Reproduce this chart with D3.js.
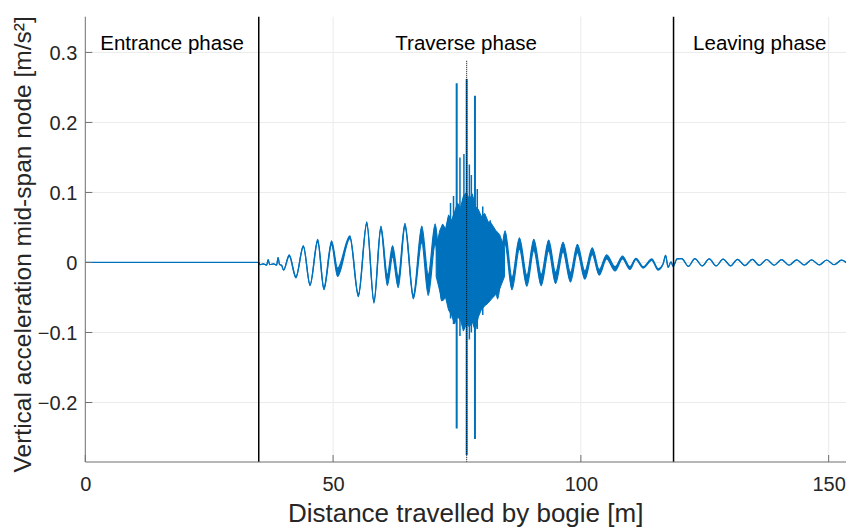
<!DOCTYPE html>
<html>
<head>
<meta charset="utf-8">
<script src="https://cdn.jsdelivr.net/npm/d3@7"></script>
<style>
  html, body { margin: 0; padding: 0; background: #fff; }
  svg { display: block; font-family: "Liberation Sans", Arial, sans-serif; }
</style>
</head>
<body>
<svg id="chart" width="846" height="531"></svg>
<script>
// Phase boundaries along the bridge [m]
const entranceEnd = 35.0;
const leavingStart = 118.7;
const midSpanPass = 76.96;
const midSpanMarkerTop = 0.288;

const phaseLabels = ["Entrance phase", "Traverse phase", "Leaving phase"];
const xTicks = [0, 50, 100, 150];
const yTicks = [-0.2, -0.1, 0, 0.1, 0.2, 0.3];
const xDomain = [0, 153.5];
const yDomain = [-0.285, 0.351];

// Bridge at rest before the bogie arrives
const restX = [0, 35.0];
const restY = [0, 0];

// Turning points of the response while the bogie is on / off the bridge
const waveX = [35.0, 35.3, 35.9, 36.6, 36.9, 37.2, 38.0, 38.6, 38.9, 39.2, 39.6, 40.0,
  41.15, 42.5, 44.0, 45.35, 46.9, 48.15, 49.7, 50.9, 53.4, 55.1, 56.8, 58.25, 59.65,
  60.95, 62.0, 63.15, 64.5, 66.2, 67.9, 69.2, 70.6, 71.9, 73.3, 74.7, 76.1, 77.5,
  78.8, 80.3, 81.7, 83.2, 84.7, 86.1, 87.6, 89.1, 90.5, 92.0, 93.5, 94.9, 96.4, 97.9,
  99.3, 100.8, 102.3, 103.7, 105.2, 106.9, 108.4, 109.9, 111.1, 112.6, 114.3, 115.6,
  116.6, 117.1, 117.6, 118.2, 118.6, 119.4,
  120.35, 121.7, 123.0, 124.5, 125.9, 127.3, 128.7, 130.2, 131.6, 133.1, 134.6, 136.0,
  137.5, 139.0, 140.5, 142.0, 143.55, 145.05, 146.55, 148.1, 149.6, 151.1, 152.6, 154.0];
const waveY = [0, -0.003, -0.002, -0.004, 0.004, -0.003, -0.002, -0.004, 0.007, -0.003, -0.004, -0.011,
  0.010, -0.021, 0.023, -0.032, 0.031, -0.037, 0.028, -0.014, 0.036, -0.047, 0.056, -0.056, 0.049,
  -0.025, 0.016, -0.028, 0.053, -0.049, 0.040, -0.032, 0.040, -0.040, 0.045, -0.045, 0.050, -0.050,
  0.050, -0.045, 0.045, -0.040, 0.035, -0.030, 0.027, -0.026, 0.025, -0.025, 0.024, -0.022, 0.022, -0.021,
  0.020, -0.018, 0.016, -0.014, 0.008, -0.009, 0.007, -0.008, 0.005, -0.007, 0.004, -0.010,
  -0.002, 0.010, -0.007, 0.001, -0.006, 0.005,
  0.0055, -0.0055, 0.0055, -0.005, 0.005, -0.005, 0.0048, -0.0048, 0.0045, -0.0045, 0.0045, -0.0042,
  0.0042, -0.004, 0.004, -0.004, 0.0038, -0.0036, 0.0036, -0.0035, 0.0035, -0.0033, 0.0033, -0.003];
// Half-width of the fast vibration riding on the slow wave
const waveSpread = [0, 0, 0, 0, 0, 0, 0, 0, 0, 0, 0, 0,
  0.001, 0.001, 0.001, 0.001, 0.002, 0.002, 0.003, 0.006, 0.002, 0.002, 0.002, 0.002, 0.003,
  0.008, 0.008, 0.008, 0.003, 0.003, 0.012, 0.015, 0.015, 0.015, 0.02, 0.02, 0.02, 0.02,
  0.02, 0.018, 0.015, 0.012, 0.010, 0.009, 0.008, 0.008, 0.008, 0.008, 0.008, 0.008, 0.007, 0.007,
  0.006, 0.006, 0.005, 0.004, 0.003, 0.003, 0.002, 0.002, 0.001, 0.001, 0.001, 0.001,
  0, 0, 0, 0, 0, 0,
  0, 0, 0, 0, 0, 0, 0, 0, 0, 0, 0, 0,
  0, 0, 0, 0, 0, 0, 0, 0, 0, 0, 0, 0];

// Dense burst around the mid-span passage: upper and lower envelope
const burstX  = [70.8, 71.5, 72.1, 72.7, 73.3, 73.9, 74.5, 75.1, 75.7, 76.3, 76.9, 77.5, 78.1, 78.7, 79.3, 79.9, 80.6, 81.3, 82.0, 82.8, 83.6, 84.6];
const burstHi = [0.020, 0.045, 0.055, 0.048, 0.068, 0.060, 0.072, 0.085, 0.078, 0.095, 0.100, 0.090, 0.098, 0.080, 0.076, 0.066, 0.070, 0.058, 0.055, 0.046, 0.040, 0.020];
const burstLo = [-0.020, -0.040, -0.055, -0.050, -0.068, -0.075, -0.088, -0.078, -0.082, -0.098, -0.088, -0.092, -0.085, -0.098, -0.078, -0.068, -0.062, -0.058, -0.052, -0.046, -0.038, -0.020];

// Impact peaks inside the burst
const peakX  = [74.94, 76.96, 78.63, 75.6, 76.4, 77.5, 77.9, 79.1, 73.7, 74.3, 80.2];
const peakHi = [0.256, 0.262, 0.238, 0.150, 0.155, 0.140, 0.125, 0.105, 0.085, 0.095, 0.080];
const peakLo = [-0.237, -0.275, -0.252, -0.105, -0.095, -0.110, -0.100, -0.095, -0.080, -0.088, -0.075];

const W = 846, H = 531;
const margin = { left: 85.3, top: 16.7, right: 0, bottom: 69 };
const svg = d3.select("#chart");

const x = d3.scaleLinear().domain(xDomain).range([margin.left, W - margin.right]);
const y = d3.scaleLinear().domain(yDomain).range([H - margin.bottom, margin.top]);

const blue = "#0072BD";
const axisGrey = "#6f6f6f";
const textCol = "#262626";

const clipId = "plot-clip";
svg.append("clipPath").attr("id", clipId).append("rect")
  .attr("x", x.range()[0]).attr("y", y.range()[1])
  .attr("width", x.range()[1] - x.range()[0]).attr("height", y.range()[0] - y.range()[1]);

// grid
const grid = svg.append("g");
grid.selectAll("line.gx").data(xTicks.filter(d => d > 0)).join("line")
  .attr("x1", d => x(d)).attr("x2", d => x(d))
  .attr("y1", y.range()[0]).attr("y2", y.range()[1])
  .attr("stroke", "#ebebeb").attr("stroke-width", 1);
grid.selectAll("line.gy").data(yTicks).join("line")
  .attr("y1", d => y(d)).attr("y2", d => y(d))
  .attr("x1", x.range()[0]).attr("x2", x.range()[1])
  .attr("stroke", "#ebebeb").attr("stroke-width", 1);

const plot = svg.append("g").attr("clip-path", `url(#${clipId})`);

// signal
const restLine = d3.line().x((d, i) => x(restX[i])).y((d, i) => y(restY[i]));
plot.append("path").attr("d", restLine(restX))
  .attr("fill", "none").attr("stroke", blue).attr("stroke-width", 1.2);

const spreadArea = d3.area().curve(d3.curveMonotoneX)
  .x((d, i) => x(waveX[i]))
  .y0((d, i) => y(waveY[i] - waveSpread[i]))
  .y1((d, i) => y(waveY[i] + waveSpread[i]));
plot.append("path").attr("d", spreadArea(waveX))
  .attr("fill", blue).attr("stroke", blue).attr("stroke-width", 1.2);

const waveLine = d3.line().curve(d3.curveMonotoneX)
  .x((d, i) => x(waveX[i])).y((d, i) => y(waveY[i]));
plot.append("path").attr("d", waveLine(waveX))
  .attr("fill", "none").attr("stroke", blue).attr("stroke-width", 1.2);

const burstArea = d3.area()
  .x((d, i) => x(burstX[i]))
  .y0((d, i) => y(burstLo[i]))
  .y1((d, i) => y(burstHi[i]));
plot.append("path").attr("d", burstArea(burstX))
  .attr("fill", blue).attr("stroke", blue).attr("stroke-width", 1);

plot.selectAll("line.peak").data(peakX).join("line")
  .attr("x1", d => x(d)).attr("x2", d => x(d))
  .attr("y1", (d, i) => y(peakHi[i])).attr("y2", (d, i) => y(peakLo[i]))
  .attr("stroke", blue).attr("stroke-width", (d, i) => i < 3 ? 2 : 1.5);

// phase separators and mid-span marker
svg.selectAll("line.phase").data([entranceEnd, leavingStart]).join("line")
  .attr("x1", d => x(d)).attr("x2", d => x(d))
  .attr("y1", y.range()[0]).attr("y2", y.range()[1])
  .attr("stroke", "#000").attr("stroke-width", 1.5);
svg.append("line")
  .attr("x1", x(midSpanPass)).attr("x2", x(midSpanPass))
  .attr("y1", y(midSpanMarkerTop)).attr("y2", y.range()[0])
  .attr("stroke", "#000").attr("stroke-width", 1).attr("stroke-dasharray", "1,1");

// axes
const xAxis = d3.axisBottom(x).tickValues(xTicks).tickSize(0).tickPadding(0).tickFormat(d3.format("d"));
const yAxis = d3.axisLeft(y).tickValues(yTicks).tickSize(0).tickPadding(0).tickFormat(d => d === 0 ? "0" : d3.format(".1f")(d));

const gx = svg.append("g").attr("transform", `translate(0,${y.range()[0]})`).call(xAxis);
gx.select(".domain").remove();
gx.selectAll("text").attr("dy", null).attr("y", 29).attr("font-size", 20).attr("fill", textCol).attr("font-family", null);

const gy = svg.append("g").attr("transform", `translate(${x.range()[0]},0)`).call(yAxis);
gy.select(".domain").remove();
gy.selectAll("text").attr("x", -8).attr("dy", "0.35em").attr("font-size", 20).attr("fill", textCol).attr("font-family", null);

// axis lines and inward ticks
svg.append("line").attr("x1", x.range()[0]).attr("x2", x.range()[1]).attr("y1", y.range()[0]).attr("y2", y.range()[0])
  .attr("stroke", axisGrey).attr("stroke-width", 1);
svg.append("line").attr("x1", x.range()[0]).attr("x2", x.range()[0]).attr("y1", y.range()[0]).attr("y2", y.range()[1])
  .attr("stroke", axisGrey).attr("stroke-width", 1);
svg.selectAll("line.xt").data(xTicks).join("line")
  .attr("x1", d => x(d)).attr("x2", d => x(d))
  .attr("y1", y.range()[0]).attr("y2", y.range()[0] - 7)
  .attr("stroke", axisGrey).attr("stroke-width", 1);
svg.selectAll("line.yt").data(yTicks).join("line")
  .attr("x1", x.range()[0]).attr("x2", x.range()[0] + 7)
  .attr("y1", d => y(d)).attr("y2", d => y(d))
  .attr("stroke", axisGrey).attr("stroke-width", 1);

// phase labels, centred in each phase
const bounds = [xDomain[0], entranceEnd, leavingStart, xDomain[1]];
svg.selectAll("text.phase").data(phaseLabels).join("text")
  .attr("x", (d, i) => (x(bounds[i]) + x(bounds[i + 1])) / 2)
  .attr("y", 50)
  .attr("text-anchor", "middle").attr("font-size", 20.5).attr("fill", "#000")
  .text(d => d);

// axis titles
svg.append("text")
  .attr("x", (x.range()[0] + x.range()[1]) / 2).attr("y", 522)
  .attr("text-anchor", "middle").attr("font-size", 26).attr("fill", textCol)
  .text("Distance travelled by bogie [m]");
svg.append("text")
  .attr("transform", `translate(31,${(y.range()[0] + y.range()[1]) / 2 + 5}) rotate(-90)`)
  .attr("text-anchor", "middle").attr("font-size", 24.5).attr("fill", textCol)
  .text("Vertical acceleration mid-span node [m/s²]");
</script>
</body>
</html>
